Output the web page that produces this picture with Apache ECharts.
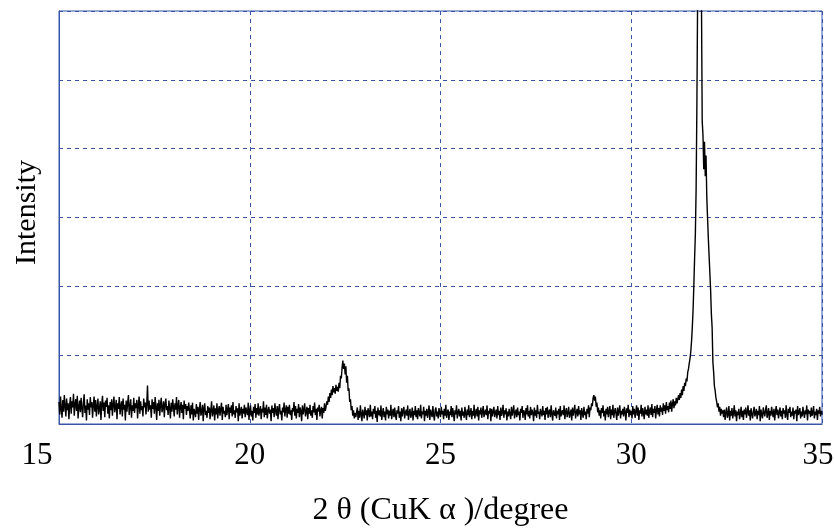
<!DOCTYPE html>
<html>
<head>
<meta charset="utf-8">
<script src="https://cdn.jsdelivr.net/npm/echarts@6/dist/echarts.min.js"></script>
<style>html,body{margin:0;padding:0;background:#fff;overflow:hidden;}#chart{width:834px;height:529px;}</style>
</head>
<body>
<div id="chart"></div>
<script>
// 2θ sampling step (degrees) and x tick values
var step = 0.02;
var xTicks = [15, 20, 25, 30, 35];

// Intensity (arbitrary units, one grid division = 1)
var segA_start = 15.00; // 15.00 - 18.40
var segA = [.32,.14,.40,.22,.09,.35,.18,.42,.26,.11,
.37,.20,.30,.07,.28,.39,.15,.33,.24,.44,
.12,.29,.36,.19,.41,.08,.25,.34,.17,.38,
.23,.10,.31,.43,.16,.27,.05,.36,.21,.30,
.13,.39,.24,.32,.09,.28,.40,.18,.35,.11,
.26,.37,.14,.22,.33,.06,.29,.41,.19,.31,
.10,.34,.25,.38,.15,.27,.08,.32,.20,.36,
.12,.29,.40,.17,.24,.35,.07,.30,.22,.39,
.14,.26,.33,.11,.37,.21,.28,.05,.34,.18,
.31,.42,.13,.25,.36,.09,.27,.19,.38,.16,
.30,.23,.35,.08,.28,.40,.15,.33,.20,.26,
.11,.37,.24,.31,.14,.29,.56,.18,.34,.21,
.27,.09,.36,.22,.32,.15,.39,.25,.06,.30,
.19,.35,.12,.28,.38,.17,.24,.33,.10,.29,
.37,.20,.26,.13,.34,.23,.08,.31,.18,.36,
.25,.11,.30,.21,.39,.14,.27,.35,.09,.24,
.32,.16,.28,.07,.34,.22,.29,.13,.26,.19,
.31];

var segB_start = 18.42; // 18.42 - 21.98
var segB = [.20,.08,.27,.14,.31,.05,.22,.17,.10,.29,
.15,.25,.06,.21,.32,.12,.18,.28,.04,.23,
.30,.13,.19,.09,.26,.16,.24,.07,.21,.33,
.11,.18,.27,.05,.23,.14,.30,.08,.20,.26,
.12,.22,.31,.06,.25,.15,.19,.10,.28,.13,
.21,.29,.07,.24,.16,.27,.11,.32,.14,.20,
.09,.26,.17,.23,.04,.30,.12,.19,.25,.08,
.22,.15,.28,.10,.24,.18,.13,.31,.06,.21,
.27,.11,.19,.05,.25,.16,.29,.09,.23,.14,
.30,.12,.20,.26,.07,.22,.17,.33,.10,.24,
.13,.28,.08,.19,.25,.15,.21,.04,.27,.16,
.23,.10,.30,.18,.12,.26,.07,.22,.29,.14,
.19,.05,.24,.17,.31,.11,.21,.27,.09,.25,
.15,.28,.13,.20,.06,.23,.18,.32,.12,.26,
.08,.22,.16,.29,.10,.24,.19,.04,.27,.14,
.21,.30,.11,.18,.25,.07,.23,.15,.28,.12,
.20,.09,.26,.17,.31,.13,.22,.06,.24,.18,
.28,.11,.20,.25,.08,.23,.16,.30,.19];

var segC_start = 22.00; // small peak near 22.5
var segC = [.25,.33,.28,.40,.32,.45,.38,.50,.42,.55,
.46,.52,.44,.57,.48,.54,.47,.60,.52,.70,
.66,.82,.92,.80,.88,.72,.84,.60,.70,.48,
.52,.32,.36,.20,.26,.12,.20,.08,.16,.10];

var segD_start = 22.80; // 22.80 - 31.20
var segD = [.12,.24,.06,.19,.09,.27,.14,.04,.21,.16,
.08,.25,.13,.20,.05,.23,.17,.10,.28,.11,
.18,.07,.22,.15,.26,.09,.19,.03,.24,.13,
.20,.11,.27,.06,.16,.23,.10,.18,.05,.25,
.14,.21,.08,.19,.12,.28,.07,.17,.22,.10,
.24,.13,.06,.20,.15,.26,.09,.18,.04,.23,
.11,.19,.25,.08,.16,.21,.12,.27,.06,.17,
.22,.09,.14,.24,.05,.19,.13,.26,.10,.20,
.07,.23,.16,.11,.28,.08,.18,.14,.25,.04,
.19,.12,.22,.09,.17,.27,.06,.21,.15,.10,
.26,.13,.05,.20,.24,.11,.18,.08,.23,.16,
.10,.25,.14,.19,.07,.22,.12,.28,.09,.17,
.21,.06,.18,.13,.26,.10,.23,.15,.04,.20,
.14,.27,.08,.17,.22,.11,.19,.05,.24,.12,
.18,.09,.25,.15,.06,.21,.13,.27,.10,.16,
.23,.07,.19,.12,.28,.08,.17,.22,.11,.25,
.05,.20,.14,.24,.09,.18,.26,.10,.16,.21,
.13,.27,.07,.19,.15,.23,.04,.22,.11,.18,
.25,.10,.16,.21,.08,.26,.13,.19,.06,.24,
.12,.17,.28,.09,.20,.14,.23,.05,.18,.11,
.22,.15,.07,.25,.12,.19,.27,.08,.16,.21,
.10,.24,.13,.18,.05,.22,.16,.26,.09,.20,
.17,.06,.23,.14,.27,.11,.19,.08,.25,.13,
.21,.16,.04,.24,.12,.20,.09,.28,.15,.18,
.07,.22,.17,.11,.26,.13,.19,.06,.23,.14,
.25,.09,.18,.21,.10,.27,.15,.05,.20,.16,
.12,.24,.08,.19,.14,.22,.06,.26,.11,.17,
.20,.13,.27,.07,.18,.23,.10,.16,.25,.09,
.15,.21,.05,.24,.12,.19,.28,.08,.17,.22,
.11,.26,.14,.20,.06,.23,.16,.09,.25,.13,
.18,.07,.22,.15,.27,.10,.24,.20,.30,.26,
.38,.42,.34,.40,.25,.31,.17,.24,.12,.20,
.08,.23,.16,.27,.11,.19,.05,.22,.14,.25,
.10,.18,.26,.07,.21,.13,.28,.09,.17,.23,
.15,.06,.24,.12,.20,.27,.08,.19,.14,.22,
.11,.25,.17,.05,.23,.16,.28,.10,.21,.13,
.19,.08,.26,.14,.22,.09,.18,.27,.12,.24,
.06,.20,.15,.28,.11,.23,.17,.07,.25,.14,
.21,.12,.27,.09,.19,.24,.13,.29,.10,.22,
.16,.26,.08,.20,.28,.14,.23,.11,.27,.18,
.24,.13,.30,.19,.27,.15,.32,.20,.26,.17,
.31,.22,.34,.18,.29,.36,.23,.33,.27,.38,
.30];

var segE_start = 31.22; // main peak near 31.8 (clipped at the top)
var segE = [.32,.42,.35,.45,.38,.50,.42,.55,.48,.60,
.55,.66,.62,.75,.80,.88,.95,1.05,1.20,1.40,
1.65,2.00,2.40,2.75,3.40,4.60,6.20,7.80,8.20,7.90,
7.40,6.20,4.40,4.20,3.70,4.10,3.60,3.90,3.30,3.00,
2.70,2.45,2.20,1.95,1.60,1.40,.90,.75,.55,.48,
.38,.32,.24,.30,.18,.25,.12,.22,.15,.20];

var segF_start = 32.42; // 32.42 - 35.00
var segF = [.10,.21,.06,.17,.24,.09,.14,.26,.05,.19,
.12,.23,.08,.16,.27,.11,.20,.04,.18,.13,
.22,.07,.15,.25,.10,.19,.06,.21,.14,.24,
.09,.17,.27,.12,.20,.05,.23,.15,.08,.18,
.25,.11,.16,.22,.07,.19,.13,.26,.04,.21,
.14,.08,.24,.17,.11,.20,.27,.09,.15,.23,
.06,.19,.12,.25,.16,.10,.22,.05,.18,.26,
.13,.21,.08,.17,.24,.11,.19,.07,.23,.15,
.20,.09,.27,.14,.06,.22,.16,.25,.10,.18,
.12,.24,.07,.19,.15,.21,.04,.26,.13,.17,
.23,.08,.18,.11,.25,.16,.09,.20,.14,.27,
.05,.21,.15,.19,.10,.24,.12,.17,.26,.08,
.18,.13,.22,.06,.20,.15,.25,.11,.19,.14];

var segments = [[segA_start, segA],[segB_start, segB],[segC_start, segC],[segD_start, segD],[segE_start, segE],[segF_start, segF]];
var data = [];
segments.forEach(function (s) {
  s[1].forEach(function (v, k) {
    data.push([+(s[0] + k * step).toFixed(2), v]);
  });
});

var serif = '"Liberation Serif","Times New Roman",serif';
var blue = '#3a55a8';
var chart = echarts.init(document.getElementById('chart'), null, {renderer: 'canvas'});
chart.setOption({
  animation: false,
  backgroundColor: '#fff',
  grid: {left: 59, right: 12, top: 11, bottom: 105, outerBoundsMode: 'none', containLabel: false,
    show: true, borderColor: blue, borderWidth: 1, backgroundColor: 'transparent'},
  xAxis: {
    type: 'value', min: xTicks[0], max: xTicks[xTicks.length - 1], interval: 5,
    name: '2 θ (CuK α )/degree', nameLocation: 'middle', nameGap: 71,
    nameTextStyle: {fontFamily: serif, fontSize: 32, color: '#000'},
    axisLine: {show: true, lineStyle: {color: blue, width: 1}},
    axisTick: {show: false},
    axisLabel: {
      fontFamily: serif, fontSize: 31, color: '#000', margin: 16,
      formatter: function (v) {
        if (v === xTicks[0]) return '{first|' + v + '}';
        if (v === xTicks[xTicks.length - 1]) return '{last|' + v + '}';
        return '' + v;
      },
      rich: {
        first: {fontFamily: serif, fontSize: 31, color: '#000', padding: [0, 44, 0, 0]},
        last: {fontFamily: serif, fontSize: 31, color: '#000', padding: [0, 8, 0, 0]}
      }
    },
    splitLine: {show: true, lineStyle: {color: blue, type: [4, 4], width: 1}}
  },
  yAxis: {
    type: 'value', min: 0, max: 6, interval: 1,
    name: 'Intensity', nameLocation: 'middle', nameGap: 17,
    nameTextStyle: {fontFamily: serif, fontSize: 30, color: '#000', padding: [0, 0, 0, 10]},
    axisLine: {show: true, lineStyle: {color: blue, width: 1}},
    axisTick: {show: false},
    axisLabel: {show: false},
    splitLine: {show: true, lineStyle: {color: blue, type: [4, 4], width: 1}}
  },
  series: [{
    type: 'line', data: data, showSymbol: false, symbol: 'none', sampling: null,
    clip: true,
    lineStyle: {color: '#000', width: 1.4}
  }]
});
</script>
</body>
</html>
